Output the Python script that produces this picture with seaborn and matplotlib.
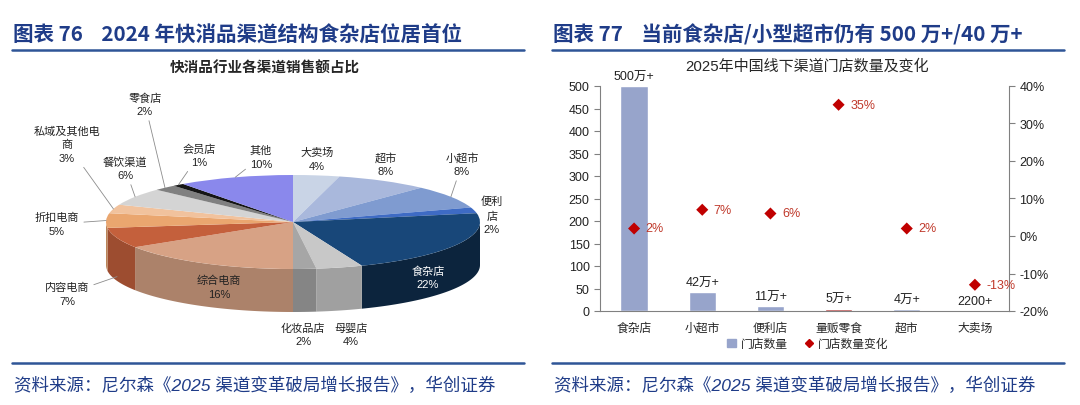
import numpy as np
import pandas as pd
import matplotlib
matplotlib.use('Agg')
import matplotlib.pyplot as plt
import seaborn as sns
from matplotlib.patches import Polygon, Patch
from matplotlib.lines import Line2D

sns.set_style('white')
plt.rcParams['font.family'] = ['Liberation Sans', 'Noto Sans CJK SC', 'DejaVu Sans']

# ---- left: channel share of FMCG sales (clockwise from 12 o'clock)
channels = ['大卖场', '超市', '小超市', '便利店', '食杂店', '母婴店', '化妆品店', '综合电商',
            '内容电商', '折扣电商', '私域及其他电商', '餐饮渠道', '零食店', '会员店', '其他']
shares = [4, 8, 8, 2, 22, 4, 2, 16, 7, 5, 3, 6, 2, 1, 10]
pie_colors = ['#c9d4e6', '#a9b8dc', '#7f9bd0', '#3e6bc4', '#184779', '#c8c8c8', '#a6a6a6', '#d7a285',
              '#c4603c', '#eaa66f', '#f1c29d', '#d4d4d4', '#808080', '#151515', '#8a88ec']
pie_text = ['大卖场\n4%', '超市\n8%', '小超市\n8%', '便利\n店\n2%', '食杂店\n22%', '母婴店\n4%',
            '化妆品店\n2%', '综合电商\n16%', '内容电商\n7%', '折扣电商\n5%', '私域及其他电\n商\n3%',
            '餐饮渠道\n6%', '零食店\n2%', '会员店\n1%', '其他\n10%']

# ---- right: offline store counts (万) and change
store_types = ['食杂店', '小超市', '便利店', '量贩零食', '超市', '大卖场']
store_counts = [500, 42, 11, 5, 4, 0.22]
count_labels = ['500万+', '42万+', '11万+', '5万+', '4万+', '2200+']
store_change = [2, 7, 6, 35, 2, -13]
bar_colors = ['#97a4cb', '#97a4cb', '#97a4cb', '#b02a2a', '#97a4cb', '#97a4cb']

W, H = 1080, 406
fig = plt.figure(figsize=(W / 100, H / 100), dpi=100)
fig.patch.set_facecolor('white')
navy = '#1f3c88'
line_c = '#2f5597'


def fx(px):
    return px / W


def fy(py):
    return 1 - py / H


# headers, rules and footers
fig.text(fx(13), fy(35), '图表 76    2024 年快消品渠道结构食杂店位居首位', color=navy,
         fontsize=14.8, fontweight='bold', va='center', family=['Noto Sans CJK SC'])
fig.text(fx(553), fy(35), '图表 77    当前食杂店/小型超市仍有 500 万+/40 万+', color=navy,
         fontsize=14.8, fontweight='bold', va='center', family=['Noto Sans CJK SC'])
for x0, x1 in [(12, 524), (552, 1064)]:
    fig.add_artist(Line2D([fx(x0), fx(x1)], [fy(51), fy(51)], color=line_c, lw=1.8))
    fig.add_artist(Line2D([fx(x0), fx(x1)], [fy(364), fy(364)], color=line_c, lw=1.8))
src = '资料来源：尼尔森《2025 渠道变革破局增长报告》，华创证券'
fig.text(fx(14), fy(385), src, color=navy, fontsize=12.6, style='italic', va='center')
fig.text(fx(554), fy(385), src, color=navy, fontsize=12.6, style='italic', va='center')

# ---------------- left pie (pseudo 3D)
CX, CY, RX, RY, DEPTH = 293, 223, 187, 47, 43
ax_p = fig.add_axes([0, fy(360), 540 / W, 300 / H])


def to_d(px, py):
    return (px - CX) / RX, (CY - py) / RY


ax_p.pie(shares, colors=pie_colors, startangle=90, counterclock=False, radius=1,
         center=(0, 0), wedgeprops=dict(linewidth=0), frame=True)
ax_p.set_aspect('auto')
ax_p.set_xlim(to_d(0, 0)[0], to_d(540, 0)[0])
ax_p.set_ylim(to_d(0, 360)[1], to_d(0, 60)[1])
ax_p.axis('off')

d = DEPTH / RY
cum = np.concatenate([[0], np.cumsum(shares)]) / sum(shares) * 360
for i, col in enumerate(pie_colors):
    a0, a1 = max(cum[i], 90), min(cum[i + 1], 270)
    if a1 <= a0:
        continue
    phi = np.radians(np.linspace(a0, a1, 80))
    xs, ys = np.sin(phi), np.cos(phi)
    pts = np.vstack([np.column_stack([xs, ys]), np.column_stack([xs[::-1], ys[::-1] - d])])
    k = 0.5 if channels[i] == '食杂店' else 0.8
    dark = tuple(c * k for c in matplotlib.colors.to_rgb(col))
    ax_p.add_patch(Polygon(pts, closed=True, facecolor=dark, edgecolor='none', zorder=0.5))

# label layout (pixel positions of text centres)
label_px = [(317, 160), (386, 165), (462, 165), (492, 216), (428, 278), (351, 335), (303, 335),
            (219, 288), (67, 295), (57, 225), (67, 145), (125, 169), (145, 105), (199, 156), (261, 158)]
leader = {'小超市', '内容电商', '折扣电商', '私域及其他电商', '餐饮渠道', '零食店', '会员店', '其他'}
for i, name in enumerate(channels):
    tx, ty = to_d(*label_px[i])
    col = 'white' if name == '食杂店' else '#222222'
    if name in leader:
        mid = np.radians((cum[i] + cum[i + 1]) / 2)
        ex, ey = np.sin(mid), np.cos(mid)
        if name == '内容电商':
            ey -= d * 0.9
        ax_p.annotate(pie_text[i], xy=(ex, ey), xytext=(tx, ty), ha='center', va='center',
                      fontsize=8, color=col, linespacing=1.45,
                      arrowprops=dict(arrowstyle='-', color='#8c8c8c', lw=0.6,
                                      shrinkA=1, shrinkB=0))
    else:
        ax_p.text(tx, ty, pie_text[i], ha='center', va='center', fontsize=8, color=col,
                  linespacing=1.45)

fig.text(fx(265), fy(68), '快消品行业各渠道销售额占比', ha='center', va='center', fontsize=10.5,
         fontweight='bold', family=['Noto Sans CJK SC'])

# ---------------- right: bars + change markers
ax = fig.add_axes([fx(600), fy(312), 409 / W, 225 / H])
df = pd.DataFrame({'type': store_types, 'count': store_counts, 'change': store_change})
sns.barplot(data=df, x='type', y='count', hue='type', palette=bar_colors, width=0.4,
            saturation=1, legend=False, ax=ax)
ax.set_xlim(-0.5, len(store_types) - 0.5)
ax.set_ylim(0, 500)
ax.set_yticks(np.arange(0, 501, 50))
ax.set_xlabel('')
ax.set_ylabel('')
ax.set_xticks(np.arange(0.5, len(store_types) - 0.5), minor=True)
ax.tick_params(axis='x', which='major', length=0, labelsize=8.5, pad=8)
ax.tick_params(axis='x', which='minor', length=4, color='#808080', direction='out')
ax.tick_params(axis='y', length=4, color='#808080', labelsize=9, direction='out', labelcolor='#222222')
for s in ['top', 'right']:
    ax.spines[s].set_visible(False)
for s in ['left', 'bottom']:
    ax.spines[s].set_color('#808080')
    ax.spines[s].set_linewidth(0.8)
for i, (v, lab) in enumerate(zip(store_counts, count_labels)):
    ax.text(i, v + 8, lab, ha='center', va='bottom', fontsize=9, color='#222222', clip_on=False)

ax2 = ax.twinx()
sns.scatterplot(x=np.arange(len(store_types)), y=df['change'], marker='D', s=38, color='#c00000',
                edgecolor='none', ax=ax2, zorder=3)
ax2.set_ylim(-20, 40)
ax2.set_yticks(np.arange(-20, 41, 10))
ax2.set_yticklabels([f'{v}%' for v in range(-20, 41, 10)])
ax2.set_ylabel('')
ax2.tick_params(axis='y', length=4, color='#808080', labelsize=9, labelcolor='#222222')
for s in ['top', 'left', 'bottom']:
    ax2.spines[s].set_visible(False)
ax2.spines['right'].set_color('#808080')
ax2.spines['right'].set_linewidth(0.8)
for i, v in enumerate(store_change):
    ax2.text(i + 0.17, v, f'{v}%', color='#c0392b', va='center', fontsize=9, clip_on=False)

fig.text(fx(807), fy(66), '2025年中国线下渠道门店数量及变化', ha='center', va='center', fontsize=10.8)
handles = [Patch(color='#97a4cb', label='门店数量'),
           Line2D([], [], marker='D', color='#c00000', ls='none', markersize=4, label='门店数量变化')]
fig.legend(handles=handles, loc='center', bbox_to_anchor=(fx(808), fy(345)), ncol=2, frameon=False,
           fontsize=8.5, handlelength=0.7, handleheight=0.7, columnspacing=1.5, handletextpad=0.4)

fig.savefig('out.png', dpi=100, facecolor='white')
